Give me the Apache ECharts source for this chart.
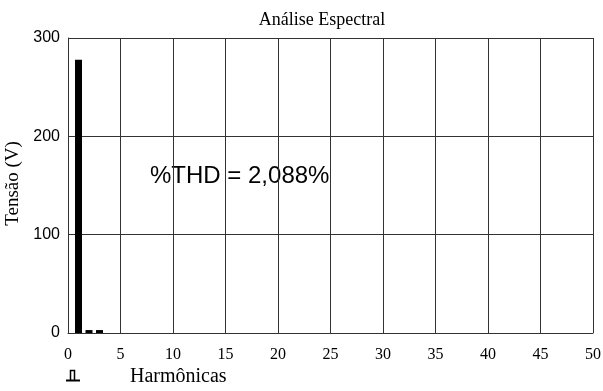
<!DOCTYPE html>
<html><head><meta charset="utf-8">
<script src="https://cdn.jsdelivr.net/npm/echarts@6/dist/echarts.min.js"></script>
<style>html,body{margin:0;padding:0;background:#fff}#c{width:603px;height:391px}</style>
</head><body><div id="c"></div>
<script>
const harmonics = [1, 2, 3];
const voltages = [278, 3, 3];
const xTicks = [0, 5, 10, 15, 20, 25, 30, 35, 40, 45, 50];
const yTicks = [0, 100, 200, 300];
const thdText = '%THD = 2,088%';

const chart = echarts.init(document.getElementById('c'));
const serif = '"Liberation Serif", "DejaVu Serif", serif';
const sans = '"Liberation Sans", Arial, sans-serif';
chart.setOption({
  animation: false,
  backgroundColor: '#fff',
  title: {
    text: 'Análise Espectral', left: 317, top: 6, textAlign: 'center',
    textStyle: {fontFamily: serif, fontWeight: 'normal', fontSize: 18, color: '#000'}
  },
  grid: {left: 68, top: 38, right: 10, bottom: 58, containLabel: false, outerBoundsMode: 'none'},
  xAxis: {
    type: 'value', min: xTicks[0], max: xTicks[xTicks.length - 1], interval: 5,
    axisLine: {show: true, lineStyle: {color: '#333', width: 1}},
    axisTick: {show: false},
    axisLabel: {fontFamily: serif, fontSize: 16, color: '#000', margin: 14},
    splitLine: {show: true, lineStyle: {color: '#333', width: 1}},
    name: 'Harmônicas', nameLocation: 'start', nameGap: 0,
    nameTextStyle: {fontFamily: serif, fontSize: 20, color: '#000', align: 'left', verticalAlign: 'top', padding: [34, 0, 0, 62]}
  },
  yAxis: {
    type: 'value', min: yTicks[0], max: yTicks[yTicks.length - 1], interval: 100,
    axisLine: {show: true, lineStyle: {color: '#333', width: 1}},
    axisTick: {show: false},
    axisLabel: {fontFamily: sans, fontSize: 16, color: '#000', margin: 8},
    splitLine: {show: true, lineStyle: {color: '#333', width: 1}},
    name: 'Tensão (V)', nameLocation: 'middle', nameGap: 42, nameRotate: 90,
    nameTextStyle: {fontFamily: serif, fontSize: 19, color: '#000', padding: [0, 0, 0, 4]}
  },
  series: [{
    type: 'bar', barWidth: 7,
    data: harmonics.map((h, i) => [h, voltages[i]]),
    itemStyle: {color: '#000'}
  }],
  graphic: [
    {type: 'text', left: 150, top: 164, style: {text: thdText, font: '24px ' + sans, fill: '#000'}},
    {type: 'polyline', shape: {points: [[66, 380.5], [80, 380.5]]}, style: {stroke: '#000', lineWidth: 2}},
    {type: 'polyline', shape: {points: [[70.5, 380], [70.5, 370.5], [74.5, 370.5], [74.5, 380]]}, style: {stroke: '#000', lineWidth: 1.5, fill: null}}
  ]
});
</script></body></html>
